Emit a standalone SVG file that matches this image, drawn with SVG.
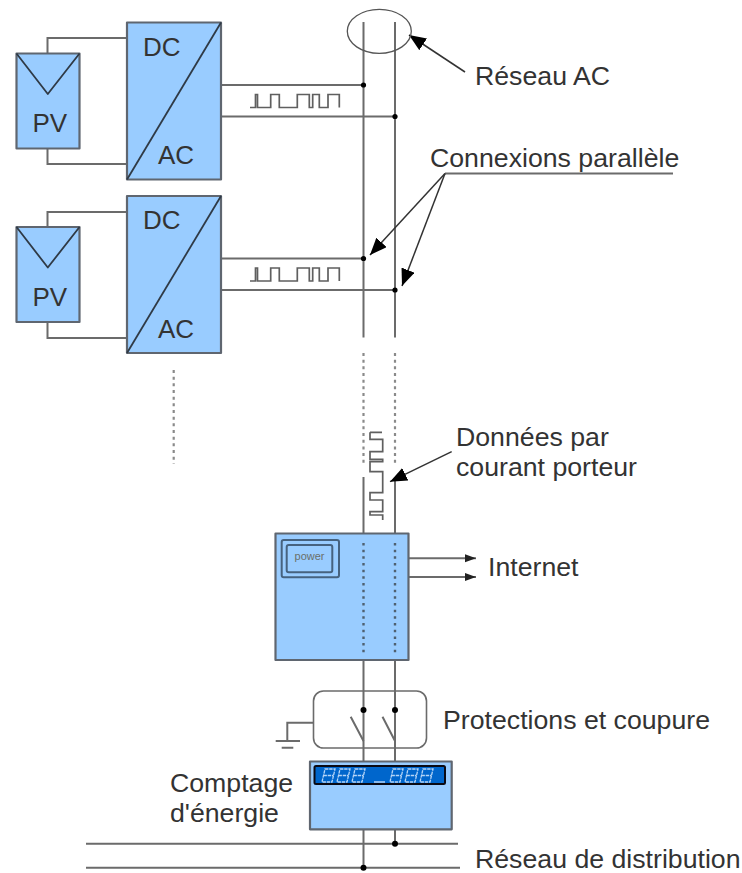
<svg xmlns="http://www.w3.org/2000/svg" xmlns:xlink="http://www.w3.org/1999/xlink" width="742" height="873" viewBox="0 0 742 873">
<style>
text{font-family:"Liberation Sans",Arial,sans-serif;font-size:26.7px;fill:#333}
.big{font-size:26px}
.box{fill:#99ccff;stroke:#5f6670;stroke-width:2.200;stroke-linejoin:round}
.dark{fill:none;stroke:#2f3a46;stroke-width:1.800;stroke-linejoin:round}
.w{fill:none;stroke:#6b6b6b;stroke-width:2}
.t{fill:none;stroke:#5f5f5f;stroke-width:1.700}
.d{fill:none;stroke:#8a8a8a;stroke-width:2.200;stroke-dasharray:3 3.670}
.a{fill:none;stroke:#333;stroke-width:1.500;marker-end:url(#arr)}
.seg{fill:none;stroke:#b5d5f7;stroke-width:1.300;stroke-dasharray:3.400 .800}
circle{fill:#000}
</style>
<defs>
<marker id="arr" markerUnits="userSpaceOnUse" markerWidth="20" markerHeight="16" refX="17" refY="7" orient="auto"><path d="M0 0L17 7L0 14Z" fill="#000"/></marker>
<marker id="arrs" markerUnits="userSpaceOnUse" markerWidth="12" markerHeight="10" refX="11" refY="4" orient="auto"><path d="M0 0L11 4L0 8Z" fill="#222"/></marker>
<path id="wave" d="M250 0H255.500V-13H257.500V0H270.700V-13H279.300V0H297.300V-13H309.300V0H312.700V-13H319.300V0H328V-13H339.300V0" class="t"/>
<g id="digit"><path class="seg" d="M3 0H13L10 13H0Z M1.500 6.500H11.500"/></g>
</defs>
<g id="connectors">
<path class="w" d="M47.500 53V38H127M47.500 148V164H127"/>
<path class="w" d="M47.500 227V212H127M47.500 322V338H127"/>
<path class="w" d="M221 85H363.500M221 116.500H395M221 258.500H363.500M221 290H395"/>
<use xlink:href="#wave" href="#wave" y="107.500"/>
<use xlink:href="#wave" href="#wave" y="281"/>
<path class="w" d="M363.500 22V337.500M395 22V337.500"/>
<path class="d" d="M363.500 353V463M395 353V463M173.700 370V464"/>
<path class="w" d="M363.500 477V533M395 481V533"/>
<path class="t" d="M370 432.300H382M370 432.300V439.300H382.700V451.700H370V459.300H382.700V461.700H370V471.700H382.700V492.700H370V500H382.700V511.700H370V515H382.700V520"/>
<path class="w" d="M363.500 660V761M395 660V761"/>
<path class="w" d="M350.700 716.700L363.500 741M382.500 716.700L395 741"/>
<path class="w" d="M313 722.700H287.300V741M275.700 741H300M281.700 747.700H293.300"/>
<path class="w" d="M363.500 829V868M395 829V843.700"/>
<path class="w" d="M86 843.700H458M86 867.700H460"/>
<path class="w" d="M409 558.300H476" marker-end="url(#arrs)"/>
<path class="w" d="M409 577H476" marker-end="url(#arrs)"/>
<path class="a" d="M465 72L409 35"/>
<path class="w" d="M445 173.500H673"/>
<path class="a" d="M445 173.500L370 255"/>
<path class="a" d="M445 173.500L402 286"/>
<path class="a" d="M451.700 451.700L390 481.700"/>
<ellipse cx="379.300" cy="31.300" rx="32" ry="22" fill="none" stroke="#555" stroke-width="1.300"/>
<circle cx="363.500" cy="85" r="2.600"/><circle cx="395" cy="116.500" r="2.600"/>
<circle cx="363.500" cy="258.500" r="2.600"/><circle cx="395" cy="290" r="2.600"/>
</g>
<g id="pv1"><rect class="box" x="16.500" y="53.500" width="63" height="95"/><path class="dark" d="M16.500 53.500L47.800 94L79.500 53.500"/><text class="big" x="32.500" y="132">PV</text></g>
<g id="conv1"><rect class="box" x="127" y="22.500" width="94" height="157"/><path class="dark" d="M127 179.500L221 22.500"/><text class="big" x="143" y="55.500">DC</text><text class="big" x="158" y="164">AC</text></g>
<g id="pv2"><rect class="box" x="16.500" y="227" width="63" height="95"/><path class="dark" d="M16.500 227L47.800 267.500L79.500 227"/><text class="big" x="32.500" y="305.500">PV</text></g>
<g id="conv2"><rect class="box" x="127" y="196" width="94" height="157"/><path class="dark" d="M127 353L221 196"/><text class="big" x="143" y="229">DC</text><text class="big" x="158" y="337.500">AC</text></g>
<g id="modem"><rect class="box" x="275.500" y="533.500" width="133" height="126.500"/><rect x="281.700" y="540" width="57.300" height="37.300" rx="2" fill="none" stroke="#46627f" stroke-width="2"/><rect x="286.700" y="545" width="45.600" height="27.300" rx="2" fill="none" stroke="#46627f" stroke-width="2"/><text x="309.500" y="560" text-anchor="middle" style="font-size:11px;fill:#6a6f6a">power</text>
<path d="M363.500 543V655M395 543V655" fill="none" stroke="#4f6070" stroke-width="2.400" stroke-dasharray="2.500 4.170"/></g>
<g id="protection"><rect x="313.500" y="691" width="113" height="57" rx="10" fill="none" stroke="#6b6b6b" stroke-width="1.600"/><circle cx="363.500" cy="710" r="3"/><circle cx="395" cy="710" r="3"/></g>
<g id="compteur"><rect class="box" x="310" y="761.500" width="141.700" height="67.800"/><rect x="314.500" y="766" width="130.500" height="18" rx="1.500" fill="#0066cc" stroke="#0a0a14" stroke-width="2"/>
<use xlink:href="#digit" href="#digit" x="322" y="769"/><use xlink:href="#digit" href="#digit" x="337" y="769"/><use xlink:href="#digit" href="#digit" x="352" y="769"/>
<path d="M374 782H385" stroke="#b5d5f7" stroke-width="1.500" fill="none"/>
<use xlink:href="#digit" href="#digit" x="390" y="769"/><use xlink:href="#digit" href="#digit" x="405" y="769"/><use xlink:href="#digit" href="#digit" x="420" y="769"/></g>
<circle cx="395" cy="843.700" r="3"/><circle cx="363.500" cy="867.700" r="3"/>
<g id="labels">
<text x="475" y="85">Réseau AC</text>
<text x="430" y="167">Connexions parallèle</text>
<text x="456" y="446">Données par</text>
<text x="456" y="476">courant porteur</text>
<text x="488" y="576">Internet</text>
<text x="443" y="729">Protections et coupure</text>
<text x="170" y="792">Comptage</text>
<text x="170" y="822">d'énergie</text>
<text x="475" y="868">Réseau de distribution</text>
</g>
</svg>
